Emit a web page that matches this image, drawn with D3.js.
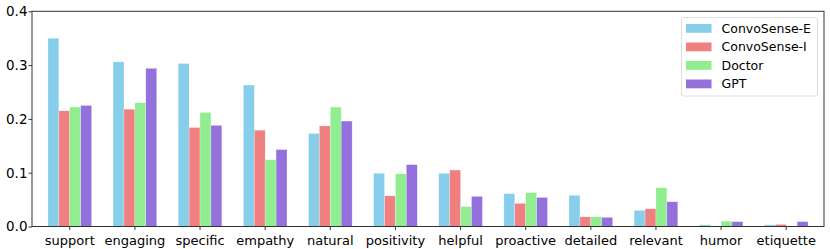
<!DOCTYPE html>
<html>
<head>
<meta charset="utf-8">
<script src="https://cdn.jsdelivr.net/npm/d3@7"></script>
<style>
  body { margin: 0; background: #fff; }
  text { font-family: "DejaVu Sans", sans-serif; fill: #000; }
</style>
</head>
<body>
<script>
const categories = ["support", "engaging", "specific", "empathy", "natural", "positivity",
  "helpful", "proactive", "detailed", "relevant", "humor", "etiquette"];
const seriesNames = ["ConvoSense-E", "ConvoSense-I", "Doctor", "GPT"];
const convoSenseE = [0.350, 0.306, 0.303, 0.263, 0.173, 0.099, 0.099, 0.061, 0.058, 0.030, 0.003, 0.003];
const convoSenseI = [0.215, 0.218, 0.184, 0.179, 0.187, 0.057, 0.105, 0.043, 0.018, 0.033, 0.000, 0.004];
const doctor      = [0.222, 0.230, 0.212, 0.124, 0.222, 0.098, 0.037, 0.063, 0.018, 0.072, 0.010, 0.000];
const gpt         = [0.225, 0.294, 0.188, 0.143, 0.196, 0.115, 0.056, 0.054, 0.017, 0.046, 0.009, 0.009];
const yTicks = [0.0, 0.1, 0.2, 0.3, 0.4];
const colors = ["#87ceeb", "#f08080", "#90ee90", "#9370db"];

const allSeries = [convoSenseE, convoSenseI, doctor, gpt];

const width = 830, height = 249;
const margin = {left: 32, right: 6, top: 11.3, bottom: 22.5};

const svg = d3.select("body").append("svg")
  .attr("width", width)
  .attr("height", height);

const x = d3.scaleBand()
  .domain(categories)
  .range([margin.left, width - margin.right])
  .paddingInner(0.33)
  .paddingOuter(0.245);

const xSub = d3.scaleBand()
  .domain(seriesNames)
  .range([0, x.bandwidth()]);

const y = d3.scaleLinear()
  .domain([0, 0.4])
  .range([height - margin.bottom, margin.top]);

// bars
seriesNames.forEach(function(name, si) {
  svg.append("g")
    .selectAll("rect")
    .data(allSeries[si])
    .enter().append("rect")
      .attr("x", (d, i) => x(categories[i]) + xSub(name))
      .attr("y", d => y(d))
      .attr("width", xSub.bandwidth())
      .attr("height", d => y(0) - y(d))
      .attr("fill", colors[si])
      .attr("stroke", "#fff")
      .attr("stroke-opacity", 0.5)
      .attr("stroke-width", 0.5);
});

// axes
var xAxis = svg.append("g")
  .attr("transform", `translate(0, ${y(0)})`)
  .call(d3.axisBottom(x).tickSize(3.5).tickSizeOuter(0));
xAxis.selectAll("text").style("font-size", "13px").attr("dy", "0.95em");

var yAxis = svg.append("g")
  .attr("transform", `translate(${margin.left}, 0)`)
  .call(d3.axisLeft(y).tickValues(yTicks).tickFormat(d3.format(".1f")).tickSize(3.5).tickSizeOuter(0));
yAxis.selectAll("text").style("font-size", "13.5px").attr("x", -4.5);

svg.selectAll(".domain").remove();
svg.selectAll(".tick line").attr("stroke", "#000").attr("stroke-width", 0.8);

// frame
svg.append("rect")
  .attr("x", margin.left)
  .attr("y", margin.top)
  .attr("width", width - margin.right - margin.left)
  .attr("height", y(0) - margin.top)
  .attr("fill", "none")
  .attr("stroke", "#333")
  .attr("stroke-width", 1);

// legend
var legend = svg.append("g").attr("transform", "translate(681.5, 17.5)");
legend.append("rect")
  .attr("width", 136)
  .attr("height", 78.5)
  .attr("rx", 2)
  .attr("fill", "#fff")
  .attr("fill-opacity", 0.8)
  .attr("stroke", "#ddd")
  .attr("stroke-width", 1);

seriesNames.forEach(function(name, i) {
  var row = legend.append("g").attr("transform", `translate(0, ${10.8 + i * 18.5})`);
  row.append("rect")
    .attr("x", 4.5)
    .attr("y", -4.3)
    .attr("width", 25.5)
    .attr("height", 8.8)
    .attr("fill", colors[i]);
  row.append("text")
    .attr("x", 40)
    .attr("y", 0)
    .attr("dy", "0.35em")
    .style("font-size", "12.5px")
    .text(name);
});
</script>
</body>
</html>
